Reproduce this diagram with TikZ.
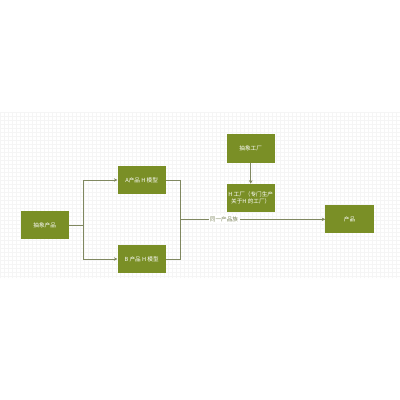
\documentclass[tikz,border=0pt]{standalone}
\usepackage{fontspec}
\setmainfont{Noto Sans CJK SC}
\usetikzlibrary{arrows.meta, positioning}
\definecolor{olive}{RGB}{122,143,38}
\definecolor{linec}{RGB}{128,136,96}
\tikzset{
    box/.style={fill=olive, text=white, minimum width=1.2cm, minimum height=0.7cm,
        inner sep=1pt, align=center, font=\fontsize{4}{5}\selectfont},
    conn/.style={linec, line width=0.4pt, -{Stealth[length=2.5pt, width=2.5pt]}},
}

\begin{document}
\begin{tikzpicture}[x=0.025cm, y=-0.025cm]
        \useasboundingbox (0, 0) rectangle (400, 400);
        \fill[white] (0, 0) rectangle (400, 400);
        \draw[gray!8, line width=0.2pt, step=0.1cm] (0, 112) grid (400, 278);
        % product side
        \node[box] (abs) at (44.7, 225) {抽象产品};
        \node[box] (pa) at (141.7, 180) {A产品 H 模型};
        \node[box] (pb) at (141.7, 259) {B 产品 H 模型};
        % factory side
        \node[box] (absf) at (250.7, 148.5) {抽象工厂};
        \node[box] (hf) at (250.7, 198) {H 工厂（专门生产\\关于H 的工厂）};
        \node[box] (prod) at (349.5, 219.3) {产品};
        \coordinate (split) at (83.3, 225);
        \coordinate (join) at (180.7, 219.3);
        \draw[linec, line width=0.4pt] (abs.east) -- (split);
        \draw[conn] (split) |- (pa.west);
        \draw[conn] (split) |- (pb.west);
        \draw[linec, line width=0.4pt] (pa.east) -| (join) |- (pb.east);
        \draw[conn] (join) -- node[fill=white, text=linec, inner sep=1pt,
            font=\fontsize{4}{5}\selectfont, pos=0.3]{同一产品族} (prod.west);
        \draw[conn] (absf.south) -- (hf.north);
\end{tikzpicture}
\end{document}
